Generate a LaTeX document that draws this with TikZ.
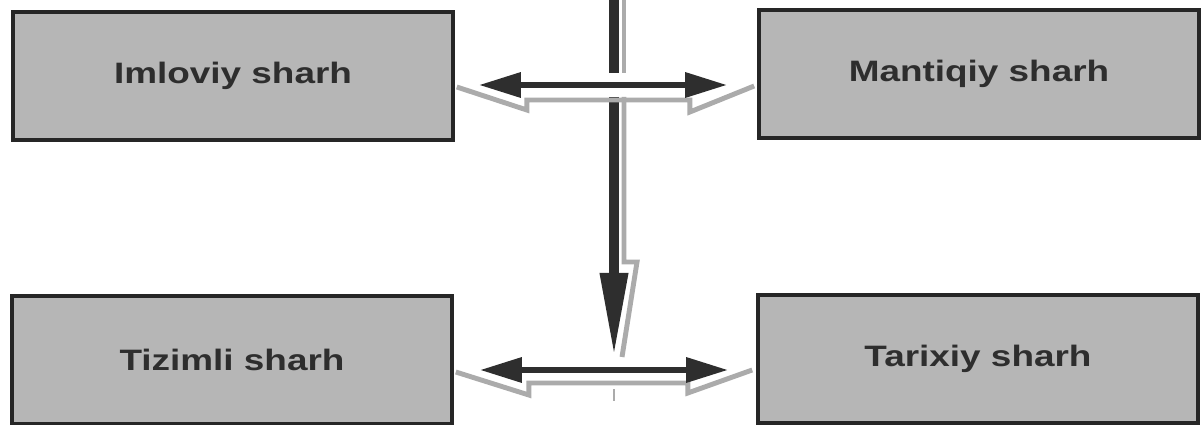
\documentclass[tikz,border=0pt]{standalone}
\usepackage{fontspec}
\setmainfont{Liberation Sans}
\newfontfamily\boxfont[FakeStretch=1.25]{Liberation Sans}
\usetikzlibrary{arrows.meta, calc}
\definecolor{boxgray}{HTML}{B6B6B6}
\definecolor{inkgray}{HTML}{2E2E2E}
\definecolor{shadegray}{HTML}{ABABAB}

\begin{document}
\begin{tikzpicture}[
      x=0.025cm, y=-0.025cm,
      every node/.style={font=\boxfont\bfseries\fontsize{21}{25}\selectfont, text=inkgray},
      block/.style={draw=black!85, line width=2.5pt, fill=boxgray,
                    minimum width=11cm, minimum height=3.2cm, inner sep=0pt},
      harrow/.style={draw=inkgray, line width=4.5pt,
                     {Triangle[length=1.05cm, width=0.6cm]}-{Triangle[length=1.05cm, width=0.6cm]}},
      vline/.style={draw=inkgray, line width=7pt},
      shade/.style={draw=shadegray, line width=3.5pt, line join=miter},
    ]
    \useasboundingbox (0,0) rectangle (1202,425);

    \node[block] (imlo)   at (233, 76)  {Imloviy sharh};
    \node[block] (mantiq) at (979, 74)  {Mantiqiy sharh};
    \node[block] (tizim)  at (232, 360) {Tizimli sharh};
    \node[block] (tarix)  at (978, 359) {Tarixiy sharh};

    \coordinate (vtop)  at (614, 0);
    \coordinate (vcut1) at (614, 73);
    \coordinate (vcut2) at (614, 97);
    \coordinate (vend)  at (614, 357);

    \draw[shade] ($(vtop)+(10,0)$) -- ($(vcut1)+(10,0)$);
    \draw[shade] ($(vcut2)+(10,0)$) -- ($(vend)+(10,-95)$) -- ++(13,0) -- ($(vend)+(8,0)$);
    \draw[shade, line width=2pt] ($(vend)+(0,32)$) -- ++(0,12);

    \draw[vline] (vtop) -- (vcut1);
    \draw[vline, -{Triangle[length=2.1cm, width=0.65cm]}] (vcut2) -- (vend);

    \draw[shade] ($(imlo.east)+(2,11)$) -- ++(70,23) -- ++(0,-10) -| ++(163,12)
      -- ($(mantiq.west)+(-3,12)$);
    \draw[harrow] ($(imlo.east)+(24,9)$) -- ($(mantiq.west)+(-30,11)$);

    \draw[shade] ($(tizim.east)+(2,12)$) -- ++(73,23) -- ++(0,-12) -| ++(159,10)
      -- ($(tarix.west)+(-4,11)$);
    \draw[harrow] ($(tizim.east)+(26,10)$) -- ($(tarix.west)+(-28,11)$);
  \end{tikzpicture}
\end{document}
